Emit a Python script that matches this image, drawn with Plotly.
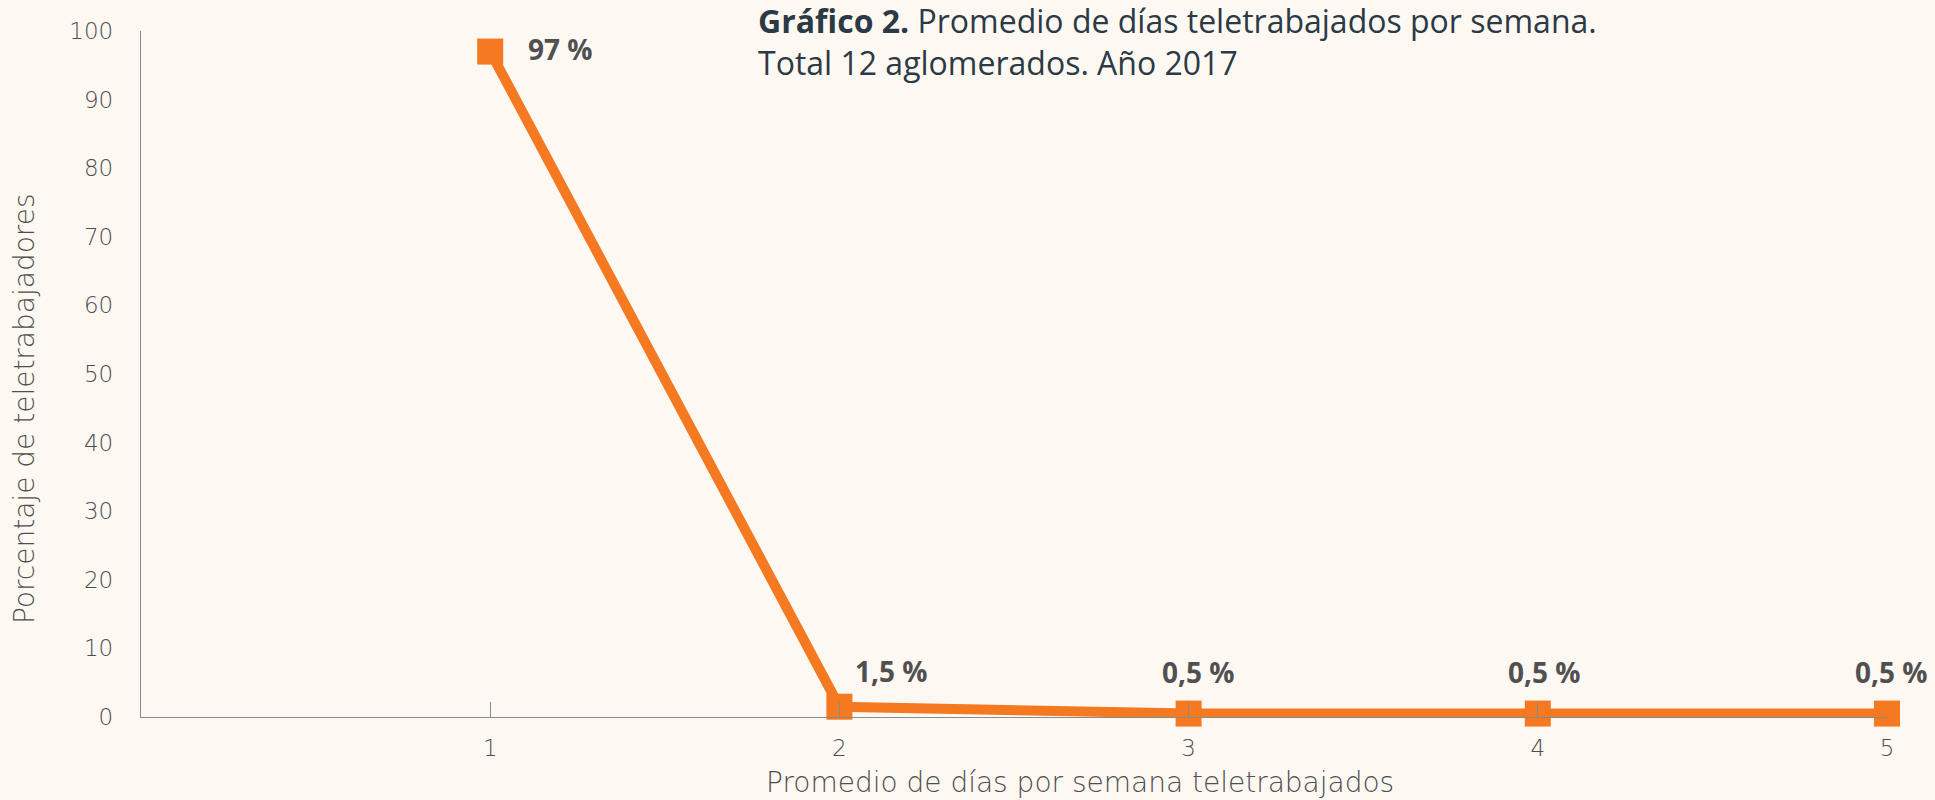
import plotly.graph_objects as go

dias = [1, 2, 3, 4, 5]
porcentaje = [97, 1.5, 0.5, 0.5, 0.5]
etiquetas = ["97 %", "1,5 %", "0,5 %", "0,5 %", "0,5 %"]
y_ticks = [0, 10, 20, 30, 40, 50, 60, 70, 80, 90, 100]
titulo = "<b>Gráfico 2.</b> Promedio de días teletrabajados por semana.<br>Total 12 aglomerados. Año 2017"
titulo_x = "Promedio de días por semana teletrabajados"
titulo_y = "Porcentaje de teletrabajadores"

ORANGE = "#F47920"
BG = "#FEF8F3"
GREY = "#4E4E4E"
TICKFONT = dict(family="DejaVu Sans", size=23, color=GREY, weight=200)
TITLEFONT = dict(family="DejaVu Sans", size=28, color=GREY, weight=200)
LABELFONT = dict(family="Open Sans", size=28, color="#505050", weight="bold")
HEADFONT = dict(family="Open Sans", size=32, color="#2B3A45")

fig = go.Figure()
fig.add_trace(go.Scatter(
    x=dias, y=porcentaje, mode="lines+markers",
    line=dict(color=ORANGE, width=10),
    marker=dict(symbol="square", size=26, color=ORANGE),
    cliponaxis=False, showlegend=False, hoverinfo="skip",
))

xshifts = [36, 52, 10, 7, 4]
yshifts = [3, 36, 42, 42, 42]
for i, (xv, yv, t) in enumerate(zip(dias, porcentaje, etiquetas)):
    fig.add_annotation(x=xv, y=yv, text=t, showarrow=False,
                       xanchor="left" if i == 0 else "center", yanchor="middle",
                       xshift=xshifts[i], yshift=yshifts[i], font=LABELFONT)

fig.add_annotation(xref="paper", yref="paper", x=0.352, y=1.049, xanchor="left", yanchor="top",
                   align="left", showarrow=False, text=titulo, font=HEADFONT)

fig.add_annotation(xref="paper", yref="paper", x=0.538, y=-0.095, xanchor="center", yanchor="middle",
                   showarrow=False, text=titulo_x, font=TITLEFONT)
fig.add_annotation(xref="paper", yref="paper", x=-0.0664, y=0.449, xanchor="center", yanchor="middle",
                   textangle=-90, showarrow=False, text=titulo_y, font=TITLEFONT)

fig.update_layout(
    width=1935, height=800,
    paper_bgcolor=BG, plot_bgcolor=BG,
    margin=dict(l=141, r=48, t=31, b=83),
    xaxis=dict(range=[0, 5], tickvals=dias, ticktext=[str(d) for d in dias],
               showgrid=False, zeroline=False, showline=True, linecolor="#8A8A8A", linewidth=1.3,
               ticks="inside", ticklen=15, tickcolor="#8A8A8A", tickwidth=1.3,
               tickfont=TICKFONT, ticklabelstandoff=10),
    yaxis=dict(range=[0, 100], tickvals=y_ticks, showgrid=False, zeroline=False,
               showline=True, linecolor="#8A8A8A", linewidth=1.3, ticks="",
               tickfont=TICKFONT, ticklabelstandoff=22),
)

fig.write_html("out.html", config={"displayModeBar": False},
               post_script="document.body.style.margin='0';document.body.style.padding='0';")
